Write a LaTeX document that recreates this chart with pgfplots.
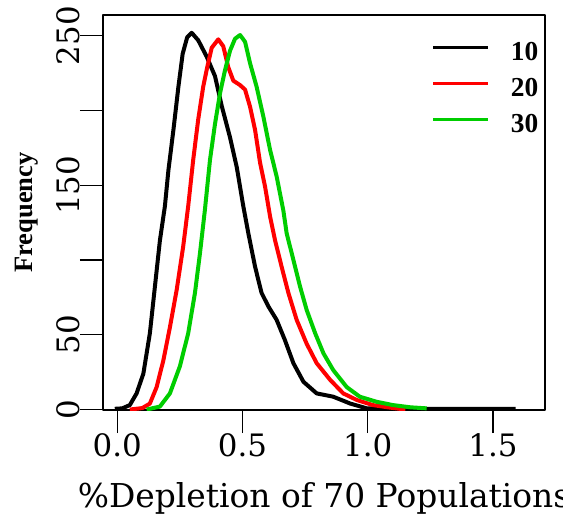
\documentclass[border=0pt]{standalone}
\usepackage{fontspec}
\setmainfont{DejaVu Serif}
\newfontfamily\lserif{Liberation Serif}
\usepackage{pgfplots}
\pgfplotsset{compat=1.18}
\begin{document}
\begin{tikzpicture}
\begin{axis}[
  at={(0,0)}, anchor=south west,
  scale only axis, width=442bp, height=395bp,
  xmin=-0.0571, xmax=1.7074, ymin=-0.3, ymax=263.9,
  axis line style={line width=1.5bp},
  xtick={0,0.5,1,1.5},
  xticklabels={0.0,0.5,1.0,1.5},
  ytick={0,50,100,150,200,250},
  yticklabels={0,50,{},150,{},250},
  tick align=outside,
  major tick length=23bp,
  tick style={line width=1.2bp, black},
  tick pos=left,
  /pgf/number format/assume math mode=true,
  xticklabel style={font=\fontsize{31}{31}\selectfont, anchor=north, inner sep=0pt},
  yticklabel style={font=\fontsize{31}{31}\selectfont, rotate=90, anchor=south, inner sep=0pt},
  xlabel={\%Depletion of 70 Populations},
  xlabel style={at={(axis description cs:0.5,-0.2456)}, anchor=base, inner sep=0pt, font=\fontsize{33}{33}\selectfont},
  ylabel={Frequency},
  ylabel style={at={(axis description cs:-0.1584,0.5)}, anchor=base, inner sep=0pt, font=\lserif\bfseries\fontsize{26.6}{26.6}\selectfont},
  legend style={draw=none, fill=none, at={(axis description cs:0.7443,0.9304)}, anchor=north west, inner sep=0pt, outer sep=0pt, row sep=18bp, column sep=21bp, font=\lserif\bfseries\fontsize{27.5}{27.5}\selectfont, nodes={inner sep=0pt, text height=18bp, text depth=0bp}},
  legend cell align=left,
  legend image code/.code={\draw[#1, line width=3bp] (0bp,3.5bp) -- (55bp,3.5bp);},
  line join=round,
]
\addplot[black, line width=4bp] coordinates {(-0.01,0.5)(0.02,0.8)(0.05,3)(0.077,10.8)(0.104,24)(0.13,51)(0.15,82)(0.17,113)(0.19,136)(0.204,160)(0.224,187)(0.244,216)(0.261,238)(0.279,249)(0.297,252)(0.323,247)(0.357,236)(0.39,223)(0.417,203)(0.45,182)(0.477,162)(0.503,136)(0.523,118)(0.55,95.5)(0.576,78)(0.603,69)(0.636,60)(0.669,46.5)(0.703,31)(0.743,18.6)(0.796,10.8)(0.862,8.6)(0.93,4)(0.996,0.8)(1.1,0.5)(1.3,0.5)(1.59,0.5)};
\addlegendentry{10}
\addplot[red, line width=4bp] coordinates {(0.05,0)(0.10,1)(0.13,4)(0.157,15)(0.184,33)(0.21,55)(0.237,80)(0.263,109)(0.283,136)(0.303,167)(0.323,194)(0.343,216)(0.359,229)(0.377,242)(0.403,247.6)(0.423,243)(0.443,229)(0.463,220)(0.49,217)(0.51,214)(0.53,202.5)(0.55,187)(0.57,165)(0.59,149)(0.61,129)(0.63,113)(0.656,95.5)(0.683,78)(0.716,60)(0.756,44)(0.796,31)(0.849,20)(0.902,10.8)(0.956,6.4)(1.02,3)(1.08,1.5)(1.15,0)};
\addlegendentry{20}
\addplot[color={rgb,255:red,0;green,205;blue,0}, line width=4bp] coordinates {(0.117,0)(0.17,2)(0.21,10.8)(0.25,29)(0.283,51)(0.31,78)(0.33,104.5)(0.35,134)(0.37,167)(0.39,191)(0.41,211.5)(0.43,227)(0.45,240)(0.47,248)(0.49,250.5)(0.51,246)(0.53,231.6)(0.556,216)(0.583,196)(0.61,173.6)(0.636,156)(0.663,133)(0.676,118)(0.703,100)(0.73,82)(0.756,66.6)(0.79,51)(0.823,37.6)(0.862,26.4)(0.916,15)(0.968,8.6)(1.035,5.2)(1.10,3)(1.17,1.5)(1.235,0.8)};
\addlegendentry{30}
\end{axis}
\pgfresetboundingbox
\useasboundingbox (-103bp,-107bp) rectangle (460bp,410bp);
\end{tikzpicture}
\end{document}
